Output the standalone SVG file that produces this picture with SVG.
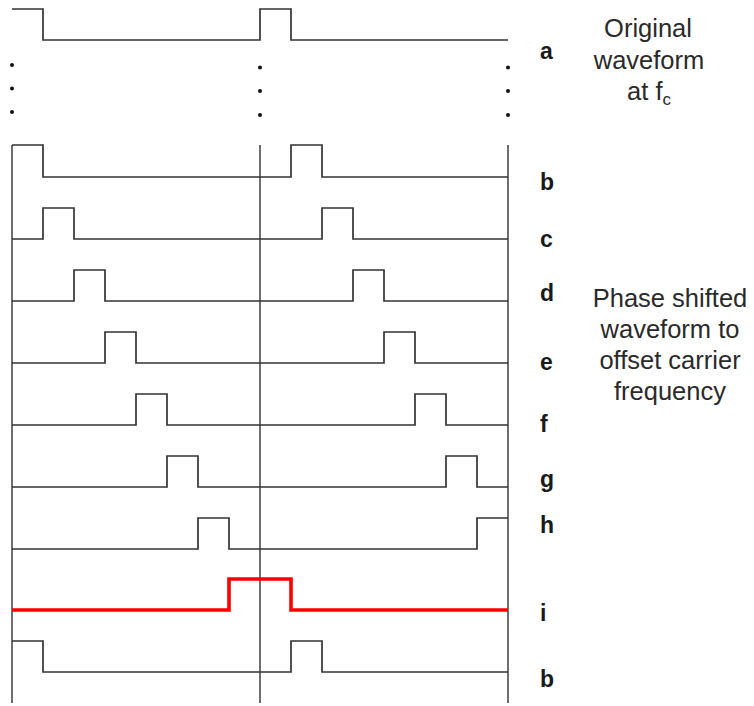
<svg xmlns="http://www.w3.org/2000/svg" width="754" height="706" viewBox="0 0 754 706">
<style>
.w{fill:none;stroke:#333;stroke-width:1.7;stroke-linejoin:miter}
.r{fill:none;stroke:#ff0000;stroke-width:3.6;stroke-linejoin:miter}
.v{stroke:#555;stroke-width:1.7}
.d{fill:#111}
.lbl{font-family:"Liberation Sans",Arial,sans-serif;font-weight:bold;font-size:23px;fill:#1a1a1a}
.t{font-family:"Liberation Sans",Arial,sans-serif;font-size:25.5px;fill:#2a2a2a;text-anchor:middle}
</style>
<rect width="754" height="706" fill="#fff"/>
<g id="gridlines">
<line class="v" x1="12" y1="145" x2="12" y2="703"/>
<line class="v" x1="260" y1="145" x2="260" y2="703"/>
<line class="v" x1="508" y1="145" x2="508" y2="703"/>
</g>
<g id="dots">
<circle class="d" cx="12" cy="65" r="2"/><circle class="d" cx="12" cy="88.5" r="2"/><circle class="d" cx="12" cy="112" r="2"/>
<circle class="d" cx="260" cy="67.5" r="2"/><circle class="d" cx="260" cy="91" r="2"/><circle class="d" cx="260" cy="115" r="2"/>
<circle class="d" cx="508" cy="67.5" r="2"/><circle class="d" cx="508" cy="91" r="2"/><circle class="d" cx="508" cy="115" r="2"/>
</g>
<g id="wave-a"><path class="w" d="M12,9 H43 V40 H260 V9 H291 V40 H508"/><text class="lbl" x="540" y="59">a</text></g>
<g id="wave-b"><path class="w" d="M12,145 H43 V177 H291 V145 H322 V177 H508"/><text class="lbl" x="540" y="190">b</text></g>
<g id="wave-c"><path class="w" d="M12,239 H43 V208 H74 V239 H322 V208 H353 V239 H508"/><text class="lbl" x="540" y="247">c</text></g>
<g id="wave-d"><path class="w" d="M12,301 H74 V270 H105 V301 H353 V270 H384 V301 H508"/><text class="lbl" x="540" y="301">d</text></g>
<g id="wave-e"><path class="w" d="M12,363 H105 V332 H136 V363 H384 V332 H415 V363 H508"/><text class="lbl" x="540" y="370">e</text></g>
<g id="wave-f"><path class="w" d="M12,425 H136 V394 H167 V425 H415 V394 H446 V425 H508"/><text class="lbl" x="540" y="432">f</text></g>
<g id="wave-g"><path class="w" d="M12,487 H167 V456 H198 V487 H446 V456 H477 V487 H508"/><text class="lbl" x="540" y="487">g</text></g>
<g id="wave-h"><path class="w" d="M12,549 H198 V518 H229 V549 H477 V518 H508"/><text class="lbl" x="540" y="533">h</text></g>
<g id="wave-i"><path class="r" d="M12,610 H229 V579 H291 V610 H508"/><text class="lbl" x="540" y="621">i</text></g>
<g id="wave-b2"><path class="w" d="M12,641 H43 V672 H291 V641 H322 V672 H508"/><text class="lbl" x="540" y="687">b</text></g>
<g id="note-original">
<text class="t" x="648" y="37">Original</text>
<text class="t" x="649" y="69">waveform</text>
<text class="t" x="649" y="100">at f<tspan font-size="17" dy="5">c</tspan></text>
</g>
<g id="note-phase">
<text class="t" x="670" y="307">Phase shifted</text>
<text class="t" x="670" y="338">waveform to</text>
<text class="t" x="670" y="369">offset carrier</text>
<text class="t" x="670" y="400">frequency</text>
</g>
</svg>
